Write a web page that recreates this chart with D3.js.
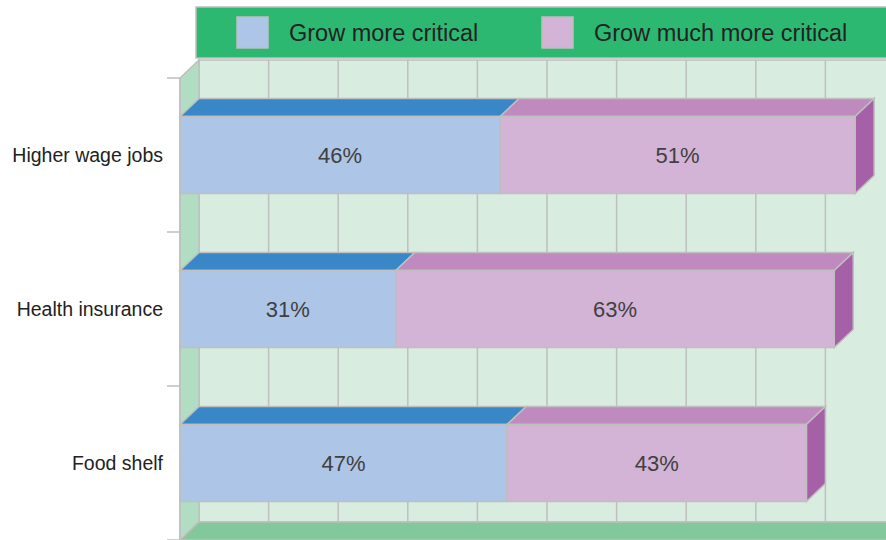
<!DOCTYPE html>
<html><head><meta charset="utf-8">
<script src="https://cdn.jsdelivr.net/npm/d3@7"></script>
<style>body{margin:0;background:#fff}svg{display:block}</style>
</head><body>
<svg id="c" width="886" height="540"></svg>
<script>
const categories = ["Higher wage jobs", "Health insurance", "Food shelf"];
const seriesNames = ["Grow more critical", "Grow much more critical"];
const moreCritical = [46, 31, 47];
const muchMoreCritical = [51, 63, 43];
const gridTicks = [0,10,20,30,40,50,60,70,80,90,100];

const colors = {
  front: ["#adc5e7", "#d3b3d6"],
  top: ["#3a87c8", "#bf8bbf"],
  side: ["#3a87c8", "#a560a8"]
};
const stroke = "#bfbfbf";
const svg = d3.select("#c");
const W = 886;
const dx = 19, dy = -18;
const x = d3.scaleLinear().domain([0, 100]).range([180, 876]);
const y = d3.scaleBand().domain(categories).range([78, 540]).paddingInner(0.5).paddingOuter(0.25);
const y0 = 78, y1 = 540;

// back wall
svg.append("rect").attr("x", x(0)+dx).attr("y", y0+dy).attr("width", W).attr("height", y1-y0)
  .attr("fill", "#d8ece0").attr("stroke", stroke).attr("stroke-width", 1.5);
// gridlines
svg.append("g").selectAll("line").data(gridTicks.slice(1)).join("line")
  .attr("x1", d => x(d)+dx).attr("x2", d => x(d)+dx)
  .attr("y1", y0+dy).attr("y2", y1+dy)
  .attr("stroke", stroke).attr("stroke-width", 1.5);
// left wall
svg.append("polygon")
  .attr("points", [[x(0),y0],[x(0)+dx,y0+dy],[x(0)+dx,y1+dy],[x(0),y1]].join(" "))
  .attr("fill", "#b1dec2").attr("stroke", stroke).attr("stroke-width", 1.5);
// floor
svg.append("polygon")
  .attr("points", [[x(0),y1],[x(0)+dx,y1+dy],[W+40,y1+dy],[W+40-dx,y1]].join(" "))
  .attr("fill", "#82c89a").attr("stroke", stroke).attr("stroke-width", 1.5);

// axis line & ticks
svg.append("line").attr("x1", x(0)).attr("x2", x(0)).attr("y1", y0).attr("y2", y1)
  .attr("stroke", stroke).attr("stroke-width", 1.5);
const bounds = [y0].concat(categories.map(c => y(c) + y.step()*0.75));
svg.append("g").selectAll("line").data(bounds).join("line")
  .attr("x1", x(0)-13).attr("x2", x(0)).attr("y1", d => d).attr("y2", d => d)
  .attr("stroke", stroke).attr("stroke-width", 1.5);

// category labels
svg.append("g").selectAll("text").data(categories).join("text")
  .attr("x", 163).attr("y", d => y(d) + y.bandwidth()/2)
  .attr("text-anchor", "end").attr("dominant-baseline", "central")
  .attr("font-family", "Liberation Sans, Arial, sans-serif").attr("font-size", 19.5)
  .attr("fill", "#222").text(d => d);

// bars
const rows = categories.map((c, i) => {
  const vals = [moreCritical[i], muchMoreCritical[i]];
  let acc = 0;
  return {c, segs: vals.map((v, k) => { const s = {k, v, a: acc, b: acc + v}; acc += v; return s; })};
});
rows.forEach(r => {
  const g = svg.append("g");
  const top = y(r.c), bh = y.bandwidth();
  r.segs.forEach(s => {
    const xa = x(s.a), xb = x(s.b);
    g.append("polygon")
      .attr("points", [[xa,top],[xa+dx,top+dy],[xb+dx,top+dy],[xb,top]].join(" "))
      .attr("fill", colors.top[s.k]).attr("stroke", stroke).attr("stroke-width", 1.5);
  });
  const last = r.segs[r.segs.length-1];
  const xe = x(last.b);
  g.append("polygon")
    .attr("points", [[xe,top],[xe+dx,top+dy],[xe+dx,top+bh+dy],[xe,top+bh]].join(" "))
    .attr("fill", colors.side[last.k]).attr("stroke", stroke).attr("stroke-width", 1.5);
  r.segs.forEach(s => {
    g.append("rect").attr("x", x(s.a)).attr("y", top).attr("width", x(s.b)-x(s.a)).attr("height", bh)
      .attr("fill", colors.front[s.k]).attr("stroke", stroke).attr("stroke-width", 1.5);
    g.append("text").attr("x", (x(s.a)+x(s.b))/2).attr("y", top + bh/2)
      .attr("text-anchor", "middle").attr("dominant-baseline", "central")
      .attr("font-family", "Liberation Sans, Arial, sans-serif").attr("font-size", 22)
      .attr("fill", "#404040").text(s.v + "%");
  });
});

// legend
const lg = svg.append("g");
lg.append("rect").attr("x", 196).attr("y", 7).attr("width", 720).attr("height", 51)
  .attr("fill", "#2db872").attr("stroke", stroke).attr("stroke-width", 1.5);
const legX = [237, 542];
seriesNames.forEach((n, i) => {
  lg.append("rect").attr("x", legX[i]).attr("y", 17).attr("width", 31).attr("height", 31)
    .attr("fill", colors.front[i]).attr("stroke", stroke).attr("stroke-width", 1.5);
  lg.append("text").attr("x", legX[i] + 52).attr("y", 32.5).attr("dominant-baseline", "central")
    .attr("font-family", "Liberation Sans, Arial, sans-serif").attr("font-size", 23.5)
    .attr("fill", "#222").text(n);
});
</script>
</body></html>
